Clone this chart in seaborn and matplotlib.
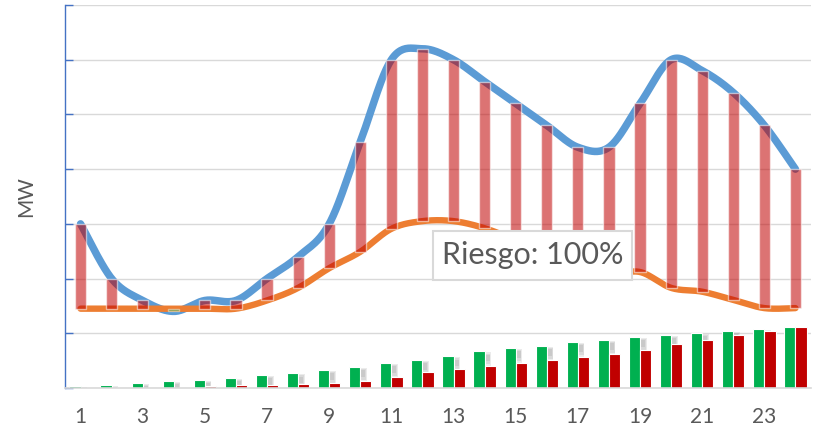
import numpy as np
import pandas as pd
import matplotlib
matplotlib.use('Agg')
import matplotlib.pyplot as plt
import seaborn as sns
from matplotlib.patches import Rectangle

# datos (MW)
horas = list(range(1, 25))
alto = [3.0, 2.0, 1.6, 1.4, 1.6, 1.6, 2.0, 2.4, 3.0, 4.5, 6.0, 6.2,
        6.0, 5.6, 5.2, 4.8, 4.4, 4.4, 5.2, 6.0, 5.8, 5.4, 4.8, 4.0]
bajo = [1.45, 1.45, 1.45, 1.45, 1.45, 1.45, 1.6, 1.83, 2.19, 2.49, 2.91, 3.05,
        3.05, 2.92, 2.7, 2.45, 2.25, 2.08, 2.12, 1.83, 1.76, 1.61, 1.46, 1.46]
verde = [0.03, 0.05, 0.09, 0.13, 0.15, 0.18, 0.24, 0.27, 0.33, 0.38, 0.46, 0.51,
         0.58, 0.67, 0.73, 0.77, 0.84, 0.88, 0.93, 0.97, 1.01, 1.05, 1.08, 1.12]
rojo = [0.0, 0.0, 0.0, 0.0, 0.04, 0.05, 0.05, 0.07, 0.10, 0.13, 0.20, 0.29,
        0.35, 0.41, 0.46, 0.52, 0.57, 0.63, 0.69, 0.80, 0.88, 0.97, 1.05, 1.12]
etiqueta = 'Riesgo: 100%'

AZUL = '#5B9BD5'
NARANJA = '#ED7D31'
VERDE = '#00B050'
ROJO = '#C00000'
GRIS_TXT = '#595959'
GRIS_LIN = '#D9D9D9'


def suavizar(x, y, n=24):
    """curva suave tipo Excel (Catmull-Rom) entre los puntos"""
    x = np.asarray(x, float)
    y = np.asarray(y, float)
    xp = np.concatenate([[x[0]], x, [x[-1]]])
    yp = np.concatenate([[y[0]], y, [y[-1]]])
    xs, ys = [], []
    for i in range(len(x) - 1):
        p0, p1, p2, p3 = i, i + 1, i + 2, i + 3
        t = np.linspace(0, 1, n, endpoint=False)
        h00 = 2 * t**3 - 3 * t**2 + 1
        h10 = t**3 - 2 * t**2 + t
        h01 = -2 * t**3 + 3 * t**2
        h11 = t**3 - t**2
        mx1, my1 = (xp[p2] - xp[p0]) / 2, (yp[p2] - yp[p0]) / 2
        mx2, my2 = (xp[p3] - xp[p1]) / 2, (yp[p3] - yp[p1]) / 2
        xs.append(h00 * xp[p1] + h10 * mx1 + h01 * xp[p2] + h11 * mx2)
        ys.append(h00 * yp[p1] + h10 * my1 + h01 * yp[p2] + h11 * my2)
    xs.append([x[-1]])
    ys.append([y[-1]])
    return np.concatenate(xs), np.concatenate(ys)


sns.set_theme(style='white')
plt.rcParams['font.family'] = ['Lato', 'DejaVu Sans']

fig = plt.figure(figsize=(8.17, 4.28), dpi=100)
ax = fig.add_axes([65 / 817, 40 / 428, 746 / 817, 383 / 428])

# barras inferiores (verde / rojo)
df = pd.DataFrame({
    'hora': horas * 2,
    'valor': verde + rojo,
    'serie': ['verde'] * 24 + ['rojo'] * 24,
})
# sombra difusa a la derecha de las barras verdes
v = np.array(verde)
for k, a in enumerate([0.10, 0.10, 0.10]):
    top = v - 0.02 - 0.02 * k
    bot = np.maximum(v - 0.30 + 0.06 * k, 0)
    ax.bar(np.array(horas) + 0.06, np.maximum(top - bot, 0), bottom=bot,
           width=0.30 - 0.05 * k, color='#404040', alpha=a, linewidth=0, zorder=1)
sns.barplot(data=df, x='hora', y='valor', hue='serie', native_scale=True,
            palette={'verde': VERDE, 'rojo': ROJO}, saturation=1, width=0.72,
            dodge=True, edgecolor='white', linewidth=0.8, legend=False, ax=ax, zorder=2)

# lineas suavizadas
xs, ys = suavizar(horas, alto)
ax.plot(xs, ys, color=AZUL, lw=5.4, solid_capstyle='round', zorder=3)
xs, ys = suavizar(horas, bajo)
ax.plot(xs, ys, color=NARANJA, lw=4.6, solid_capstyle='round', zorder=4)

# barras de diferencia (alto - bajo)
alto_a = np.array(alto)
bajo_a = np.array(bajo)
sube = alto_a >= bajo_a
ax.bar(np.array(horas)[sube], (alto_a - bajo_a)[sube], bottom=bajo_a[sube],
       width=0.36, color=ROJO, alpha=0.55, edgecolor='white', linewidth=1.0, zorder=5)
ax.bar(np.array(horas)[~sube], (bajo_a - alto_a)[~sube], bottom=alto_a[~sube],
       width=0.36, color=VERDE, alpha=0.45, edgecolor='white', linewidth=1.0, zorder=5)

# etiqueta
caja = Rectangle((0.493, 0.282), 0.267, 0.128, transform=ax.transAxes,
                 facecolor='white', edgecolor=GRIS_LIN, lw=1.5, zorder=6)
ax.add_patch(caja)
ax.text(0.627, 0.346, etiqueta, transform=ax.transAxes, ha='center', va='center',
        fontsize=22, color=GRIS_TXT, zorder=7)

# ejes
ax.set_xlim(0.5, 24.5)
ax.set_ylim(0, 7)
ax.set_yticks(range(0, 8))
ax.set_yticklabels([])
ax.grid(axis='y', color=GRIS_LIN, lw=1.0)
ax.set_axisbelow(True)
ax.set_xticks(horas[::2])
ax.set_xticklabels([str(h) for h in horas[::2]])
ax.set_xticks(np.arange(1.5, 24.5, 1), minor=True)
ax.tick_params(axis='x', which='major', length=0, pad=14, labelsize=15, labelcolor=GRIS_TXT)
ax.tick_params(axis='x', which='minor', direction='in', length=4, color=GRIS_LIN, width=1)
ax.tick_params(axis='y', which='major', direction='in', length=6, color='#4472C4', width=1, left=True)
ax.set_xlabel('')
ax.set_ylabel('MW', fontsize=15, color=GRIS_TXT, labelpad=17)

for s in ['top', 'right']:
    ax.spines[s].set_visible(False)
ax.spines['left'].set_color('#4472C4')
ax.spines['left'].set_linewidth(1.0)
ax.spines['bottom'].set_color(GRIS_LIN)
ax.spines['bottom'].set_linewidth(1.2)

fig.savefig('out.png', dpi=100)
